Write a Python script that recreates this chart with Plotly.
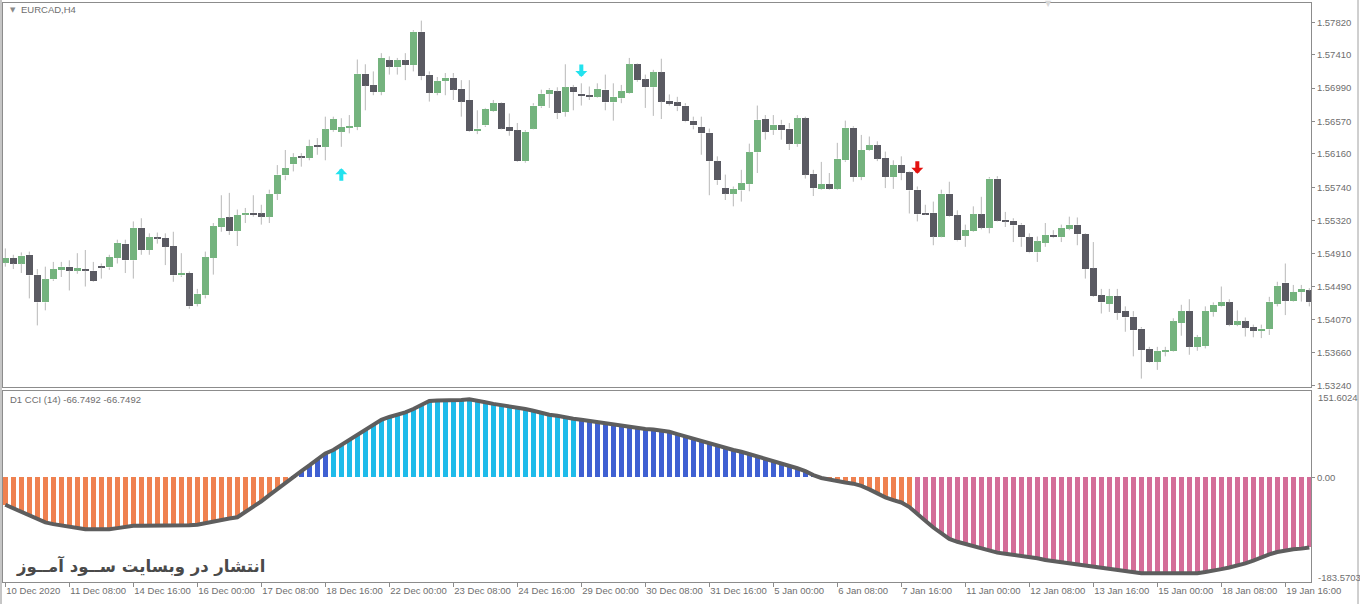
import plotly.graph_objects as go

# ---------------- data ----------------
time_labels = ["10 Dec 2020", "11 Dec 08:00", "14 Dec 16:00", "16 Dec 00:00", "17 Dec 08:00",
               "18 Dec 16:00", "22 Dec 00:00", "23 Dec 08:00", "24 Dec 16:00", "29 Dec 00:00",
               "30 Dec 08:00", "31 Dec 16:00", "5 Jan 00:00", "6 Jan 08:00", "7 Jan 16:00",
               "11 Jan 00:00", "12 Jan 08:00", "13 Jan 16:00", "15 Jan 00:00", "18 Jan 08:00",
               "19 Jan 16:00"]
label_step = 8  # one label every 8 H4 bars

opens = [1.5479, 1.5485, 1.5478, 1.5489, 1.5464, 1.5429, 1.5458, 1.5470, 1.5474, 1.5469,
         1.5471, 1.5469, 1.5475, 1.5473, 1.5485, 1.5503, 1.5482, 1.5523, 1.5495, 1.5511,
         1.5510, 1.5500, 1.5463, 1.5466, 1.5427, 1.5438, 1.5485, 1.5524, 1.5536, 1.5519,
         1.5540, 1.5542, 1.5541, 1.5537, 1.5566, 1.5589, 1.5603, 1.5613, 1.5611, 1.5627,
         1.5625, 1.5646, 1.5644, 1.5649, 1.5650, 1.5717, 1.5703, 1.5694, 1.5734, 1.5725,
         1.5734, 1.5728, 1.5770, 1.5716, 1.5693, 1.5708, 1.5712, 1.5698, 1.5684, 1.5645,
         1.5652, 1.5670, 1.5680, 1.5650, 1.5646, 1.5607, 1.5648, 1.5676, 1.5692, 1.5695,
         1.5669, 1.5700, 1.5692, 1.5690, 1.5688, 1.5697, 1.5681, 1.5686, 1.5693, 1.5729,
         1.5710, 1.5700, 1.5719, 1.5683, 1.5681, 1.5677, 1.5658, 1.5650, 1.5643, 1.5607,
         1.5573, 1.5566, 1.5570, 1.5578, 1.5618, 1.5660, 1.5646, 1.5653, 1.5648, 1.5629,
         1.5661, 1.5591, 1.5572, 1.5578, 1.5572, 1.5608, 1.5649, 1.5587, 1.5621, 1.5627,
         1.5611, 1.5587, 1.5602, 1.5593, 1.5571, 1.5542, 1.5542, 1.5512, 1.5566, 1.5539,
         1.5513, 1.5519, 1.5540, 1.5523, 1.5585, 1.5533, 1.5532, 1.5527, 1.5511, 1.5492,
         1.5504, 1.5514, 1.5511, 1.5522, 1.5527, 1.5515, 1.5472, 1.5438, 1.5427, 1.5437,
         1.5418, 1.5411, 1.5396, 1.5370, 1.5354, 1.5367, 1.5368, 1.5403, 1.5418, 1.5373,
         1.5374, 1.5417, 1.5424, 1.5429, 1.5401, 1.5405, 1.5398, 1.5393, 1.5395, 1.5427,
         1.5454, 1.5431, 1.5442, 1.5444]
highs = [1.5497, 1.5489, 1.5492, 1.5493, 1.5471, 1.5474, 1.5480, 1.5480, 1.5482, 1.5491,
         1.5495, 1.5480, 1.5478, 1.5489, 1.5508, 1.5508, 1.5531, 1.5535, 1.5516, 1.5517,
         1.5516, 1.5518, 1.5491, 1.5468, 1.5446, 1.5493, 1.5529, 1.5564, 1.5567, 1.5546,
         1.5548, 1.5564, 1.5552, 1.5571, 1.5602, 1.5621, 1.5617, 1.5617, 1.5634, 1.5636,
         1.5663, 1.5663, 1.5661, 1.5665, 1.5735, 1.5729, 1.5720, 1.5743, 1.5739, 1.5737,
         1.5743, 1.5772, 1.5784, 1.5720, 1.5713, 1.5718, 1.5718, 1.5709, 1.5709, 1.5671,
         1.5674, 1.5684, 1.5681, 1.5667, 1.5655, 1.5646, 1.5680, 1.5697, 1.5699, 1.5700,
         1.5729, 1.5703, 1.5705, 1.5701, 1.5705, 1.5716, 1.5705, 1.5703, 1.5737, 1.5730,
         1.5716, 1.5722, 1.5736, 1.5691, 1.5688, 1.5680, 1.5663, 1.5663, 1.5648, 1.5613,
         1.5590, 1.5575, 1.5596, 1.5629, 1.5677, 1.5665, 1.5665, 1.5659, 1.5655, 1.5665,
         1.5663, 1.5596, 1.5606, 1.5592, 1.5630, 1.5658, 1.5651, 1.5640, 1.5638, 1.5632,
         1.5619, 1.5608, 1.5613, 1.5594, 1.5575, 1.5552, 1.5556, 1.5571, 1.5581, 1.5545,
         1.5527, 1.5550, 1.5562, 1.5587, 1.5588, 1.5543, 1.5535, 1.5529, 1.5516, 1.5512,
         1.5529, 1.5520, 1.5527, 1.5537, 1.5536, 1.5516, 1.5505, 1.5446, 1.5446, 1.5446,
         1.5424, 1.5418, 1.5398, 1.5373, 1.5373, 1.5373, 1.5409, 1.5426, 1.5433, 1.5388,
         1.5424, 1.5429, 1.5449, 1.5433, 1.5419, 1.5410, 1.5401, 1.5401, 1.5436, 1.5455,
         1.5478, 1.5451, 1.5451, 1.5447]
lows = [1.5474, 1.5471, 1.5466, 1.5434, 1.5400, 1.5419, 1.5456, 1.5461, 1.5444, 1.5465,
        1.5449, 1.5455, 1.5459, 1.5470, 1.5478, 1.5466, 1.5459, 1.5489, 1.5489, 1.5503,
        1.5476, 1.5455, 1.5461, 1.5421, 1.5424, 1.5434, 1.5464, 1.5518, 1.5514, 1.5500,
        1.5529, 1.5537, 1.5527, 1.5529, 1.5558, 1.5583, 1.5594, 1.5600, 1.5608, 1.5615,
        1.5608, 1.5644, 1.5625, 1.5642, 1.5646, 1.5671, 1.5690, 1.5690, 1.5716, 1.5716,
        1.5709, 1.5720, 1.5709, 1.5682, 1.5690, 1.5690, 1.5684, 1.5663, 1.5644, 1.5641,
        1.5650, 1.5669, 1.5647, 1.5639, 1.5606, 1.5605, 1.5647, 1.5674, 1.5674, 1.5660,
        1.5663, 1.5671, 1.5677, 1.5684, 1.5687, 1.5671, 1.5658, 1.5680, 1.5692, 1.5707,
        1.5674, 1.5664, 1.5660, 1.5677, 1.5670, 1.5656, 1.5647, 1.5615, 1.5564, 1.5577,
        1.5558, 1.5550, 1.5556, 1.5569, 1.5592, 1.5634, 1.5640, 1.5634, 1.5621, 1.5625,
        1.5585, 1.5563, 1.5571, 1.5571, 1.5571, 1.5606, 1.5581, 1.5583, 1.5620, 1.5607,
        1.5573, 1.5572, 1.5583, 1.5541, 1.5531, 1.5539, 1.5501, 1.5511, 1.5537, 1.5506,
        1.5499, 1.5518, 1.5521, 1.5516, 1.5531, 1.5524, 1.5505, 1.5499, 1.5491, 1.5480,
        1.5499, 1.5510, 1.5505, 1.5520, 1.5501, 1.5459, 1.5436, 1.5415, 1.5417, 1.5407,
        1.5392, 1.5361, 1.5333, 1.5353, 1.5344, 1.5361, 1.5367, 1.5387, 1.5363, 1.5368,
        1.5371, 1.5411, 1.5423, 1.5399, 1.5399, 1.5386, 1.5385, 1.5384, 1.5388, 1.5424,
        1.5413, 1.5430, 1.5430, 1.5424]
closes = [1.5485, 1.5478, 1.5488, 1.5463, 1.5429, 1.5458, 1.5471, 1.5474, 1.5469, 1.5472,
          1.5469, 1.5456, 1.5473, 1.5486, 1.5504, 1.5482, 1.5523, 1.5495, 1.5511, 1.5510,
          1.5499, 1.5463, 1.5466, 1.5424, 1.5440, 1.5486, 1.5525, 1.5535, 1.5519, 1.5539,
          1.5542, 1.5539, 1.5537, 1.5566, 1.5590, 1.5598, 1.5612, 1.5612, 1.5626, 1.5625,
          1.5647, 1.5660, 1.5650, 1.5651, 1.5717, 1.5702, 1.5694, 1.5737, 1.5726, 1.5734,
          1.5728, 1.5770, 1.5714, 1.5693, 1.5708, 1.5712, 1.5697, 1.5682, 1.5645, 1.5648,
          1.5673, 1.5680, 1.5648, 1.5645, 1.5607, 1.5644, 1.5677, 1.5692, 1.5697, 1.5668,
          1.5700, 1.5694, 1.5689, 1.5688, 1.5698, 1.5681, 1.5688, 1.5695, 1.5729, 1.5709,
          1.5700, 1.5719, 1.5682, 1.5679, 1.5676, 1.5657, 1.5652, 1.5642, 1.5607, 1.5583,
          1.5566, 1.5572, 1.5579, 1.5618, 1.5659, 1.5644, 1.5653, 1.5646, 1.5629, 1.5661,
          1.5590, 1.5573, 1.5578, 1.5572, 1.5610, 1.5649, 1.5587, 1.5621, 1.5627, 1.5610,
          1.5587, 1.5602, 1.5592, 1.5570, 1.5540, 1.5540, 1.5512, 1.5566, 1.5538, 1.5507,
          1.5520, 1.5540, 1.5523, 1.5585, 1.5532, 1.5531, 1.5526, 1.5511, 1.5492, 1.5506,
          1.5514, 1.5511, 1.5523, 1.5527, 1.5515, 1.5471, 1.5437, 1.5429, 1.5437, 1.5416,
          1.5410, 1.5394, 1.5369, 1.5354, 1.5368, 1.5369, 1.5405, 1.5418, 1.5373, 1.5385,
          1.5418, 1.5426, 1.5429, 1.5401, 1.5405, 1.5397, 1.5393, 1.5396, 1.5430, 1.5450,
          1.5431, 1.5442, 1.5446, 1.5429]

cci_values = [-48, -54, -61, -67, -73, -79, -82, -84, -86, -89,
              -91, -91, -91, -91, -89, -87, -85, -85, -85, -85,
              -85, -85, -84, -84, -83, -80, -77, -74, -72, -70,
              -61, -51, -42, -31, -20, -10, 1, 11, 21, 32,
              42, 48, 57, 65, 74, 83, 92, 101, 106, 110,
              114, 120, 127, 134, 135, 135, 135, 136, 137, 135,
              132, 129, 127, 125, 123, 120, 117, 113, 110, 108,
              105, 103, 101, 99, 96, 94, 92, 91, 89, 87,
              85, 84, 82, 80, 76, 72, 67, 63, 60, 56,
              52, 48, 45, 41, 36, 32, 28, 24, 20, 16,
              11, 4, -1, -4, -7, -9, -11, -15, -21, -28,
              -35, -40, -44, -52, -63, -76, -88, -99, -108, -113,
              -117, -121, -125, -129, -132, -134, -136, -137, -139, -142,
              -145, -147, -149, -151, -153, -155, -156, -158, -160, -163,
              -165, -167, -168, -168, -168, -168, -168, -168, -168, -168,
              -166, -164, -161, -158, -155, -151, -146, -140, -135, -131,
              -128, -126, -125, -123]
# colour state of the CCI histogram as run lengths
cci_runs = [("orange", 36), ("blue", 5), ("lightblue", 31), ("blue", 30), ("orange", 12), ("pink", 50)]
cci_max = 151.6024
cci_min = -183.5703

price_ticks = [1.57820, 1.57410, 1.56990, 1.56570, 1.56160, 1.55740,
               1.55320, 1.54910, 1.54490, 1.54070, 1.53660, 1.53240]

sig_idx = [42, 72, 114]
sig_price = [1.5598, 1.5713, 1.5591]
sig_dir = ["up", "down", "down"]
sig_color = ["#22E2EE", "#22E2EE", "#E3120F"]

# ---------------- styling ----------------
GREEN = "#74B37E"
DARK = "#5A5A62"
WICK = "#B8B8B8"
FRAME = "#8C8C8C"
TXT = "#6E6E6E"
FONT = "Liberation Sans, Arial, sans-serif"
cci_palette = {"orange": "#EF8150", "blue": "#3F60D2", "lightblue": "#1FBBEA", "pink": "#D46D98"}

n = len(opens)
idx = list(range(n))

W, H = 1360, 604
ML, MR, MT, MB = 3, 49, 3, 22
pw = W - ML - MR
ph = H - MT - MB


def px_x(p):
    return (p - ML) / pw


def px_y(p):
    return (H - MB - p) / ph


fig = go.Figure()

# wicks (split above and below the body)
wx, wy = [], []
for i in idx:
    lo_b = min(opens[i], closes[i])
    hi_b = max(opens[i], closes[i])
    wx += [i, i, None, i, i, None]
    wy += [lows[i], lo_b, None, hi_b, highs[i], None]
fig.add_trace(go.Scatter(x=wx, y=wy, mode="lines", line=dict(color=WICK, width=1),
                         hoverinfo="skip", showlegend=False, xaxis="x", yaxis="y"))

# bodies
fig.add_trace(go.Bar(
    x=idx,
    y=[abs(closes[i] - opens[i]) for i in idx],
    base=[min(opens[i], closes[i]) for i in idx],
    marker=dict(color=[GREEN if closes[i] >= opens[i] else DARK for i in idx], line=dict(width=0)),
    width=0.8, showlegend=False, xaxis="x", yaxis="y"))

# CCI histogram
cci_cols = []
for name, cnt in cci_runs:
    cci_cols += [cci_palette[name]] * cnt
fig.add_trace(go.Bar(x=idx, y=cci_values, marker=dict(color=cci_cols, line=dict(width=0)),
                     width=0.62, showlegend=False, xaxis="x2", yaxis="y2"))
fig.add_trace(go.Scatter(x=idx, y=cci_values, mode="lines", line=dict(color="#5E5E5E", width=4),
                         showlegend=False, xaxis="x2", yaxis="y2"))

annotations = []
# signal arrows (shaft + head)
for i, p, d, c in zip(sig_idx, sig_price, sig_dir, sig_color):
    annotations.append(dict(x=i, y=p, xref="x", yref="y", text="", showarrow=True,
                            ax=0, ay=14 if d == "up" else -14, arrowhead=1, arrowsize=0.5,
                            arrowwidth=4, arrowcolor=c, standoff=0))

annotations += [
    dict(x=px_x(8), y=px_y(10), xref="paper", yref="paper", text="▼", showarrow=False,
         font=dict(family="DejaVu Sans", size=7, color="#8A8A8A"), xanchor="left", yanchor="middle"),
    dict(x=px_x(19), y=px_y(9.5), xref="paper", yref="paper", text="EURCAD,H4", showarrow=False,
         font=dict(family=FONT, size=9.5, color=TXT), xanchor="left", yanchor="middle"),
    dict(x=px_x(1048), y=px_y(3), xref="paper", yref="paper", text="▼", showarrow=False,
         font=dict(family="DejaVu Sans", size=8, color="#D8D8D8"), xanchor="center", yanchor="middle"),
    dict(x=px_x(8), y=px_y(399), xref="paper", yref="paper", text="D1 CCI (14) -66.7492 -66.7492",
         showarrow=False, font=dict(family=FONT, size=9.5, color=TXT), xanchor="left", yanchor="middle"),
    dict(x=px_x(1316), y=px_y(397), xref="paper", yref="paper", text=f"{cci_max:.4f}",
         showarrow=False, font=dict(family=FONT, size=9.5, color=TXT), xanchor="left", yanchor="middle"),
    dict(x=px_x(1316), y=px_y(577), xref="paper", yref="paper", text=f"{cci_min:.4f}",
         showarrow=False, font=dict(family=FONT, size=9.5, color=TXT), xanchor="left", yanchor="middle"),
    dict(x=px_x(14), y=px_y(566), xref="paper", yref="paper",
         text="<b>انتشار در وبسایت ســود آمــوز</b>", showarrow=False,
         font=dict(family="DejaVu Sans", size=16.5, color="#4A4A4A"), xanchor="left", yanchor="middle"),
]

shapes = [
    dict(type="line", xref="paper", yref="paper", x0=px_x(1), x1=px_x(1), y0=px_y(604), y1=px_y(0),
         line=dict(color=FRAME, width=1)),
    dict(type="line", xref="paper", yref="paper", x0=px_x(1358), x1=px_x(1358), y0=px_y(604), y1=px_y(0),
         line=dict(color="#A0A0A0", width=1)),
]

xr = [-0.29, (W - MR - ML) / 8 - 0.29]
main_bottom = px_y(387)
cci_top = px_y(391)

axis_common = dict(showgrid=False, zeroline=False, showline=True, mirror=True,
                   linecolor=FRAME, linewidth=1, automargin=False)

fig.update_layout(
    width=W, height=H, margin=dict(l=ML, r=MR, t=MT, b=MB, autoexpand=False),
    paper_bgcolor="white", plot_bgcolor="white", barmode="overlay", bargap=0,
    showlegend=False,
    xaxis=dict(domain=[0, 1], anchor="y", range=xr, showticklabels=False, ticks="", **axis_common),
    yaxis=dict(domain=[main_bottom, 1], anchor="x", side="right", range=[1.53224, 1.58062],
               tickvals=price_ticks, ticktext=[f"{v:.5f}" for v in price_ticks],
               ticks="outside", ticklen=3, tickcolor=FRAME,
               tickfont=dict(family=FONT, size=9.5, color=TXT), **axis_common),
    xaxis2=dict(domain=[0, 1], anchor="y2", range=xr,
                tickvals=[k * label_step for k in range(len(time_labels))], ticktext=time_labels,
                ticks="outside", ticklen=4, tickcolor=FRAME, ticklabelposition="outside right",
                tickangle=0, tickfont=dict(family=FONT, size=9.5, color=TXT), **axis_common),
    yaxis2=dict(domain=[0, cci_top], anchor="x2", side="right", range=[cci_min, cci_max],
                tickvals=[0], ticktext=["0.00"], ticks="outside", ticklen=3, tickcolor=FRAME,
                tickfont=dict(family=FONT, size=9.5, color=TXT), **axis_common),
    annotations=annotations, shapes=shapes,
)

fig.write_html("out.html", config={"displayModeBar": False},
               post_script="document.body.style.margin='0px';")
